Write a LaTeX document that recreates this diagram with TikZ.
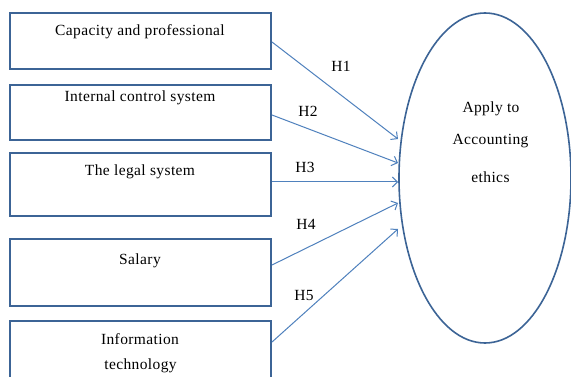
\documentclass[tikz,border=0pt]{standalone}
\usepackage{fontspec}
\setmainfont[LetterSpace=2.5]{Liberation Serif}
\usetikzlibrary{shapes.geometric,arrows.meta}
\definecolor{boxblue}{HTML}{3C6496}
\definecolor{arrblue}{HTML}{4F81BD}
\tikzset{
  box/.style={draw=boxblue, line width=2pt, rectangle, minimum width=261pt, inner sep=0pt},
  txt/.style={anchor=base, inner sep=0pt, font=\fontsize{15.5}{18}\selectfont},
  arr/.style={draw=arrblue, line width=1pt, -{Straight Barb[length=5pt,width=10pt]}},
}
\begin{document}
\begin{tikzpicture}[x=1pt,y=-1pt]
\useasboundingbox (0,0) rectangle (571,377);
\clip (0,0) rectangle (571,377);
\fill[white] (0,0) rectangle (571,377);
% boxes
\node[box, minimum height=56pt] (b1) at (140.5,41) {};
\node[box, minimum height=55pt] (b2) at (140.5,112.5) {};
\node[box, minimum height=63pt] (b3) at (140.5,184.5) {};
\node[box, minimum height=67pt] (b4) at (140.5,272.5) {};
\node[box, minimum height=69pt] (b5) at (140.5,355.5) {};
% box texts
\node[txt] (t1) at (140,36) {Capacity and professional};
\node[txt] (t2) at (140,102) {Internal control system};
\node[txt] (t3) at (140,176) {The legal system};
\node[txt] (t4) at (140,265) {Salary};
\node[txt] (t5a) at (140,344) {Information};
\node[txt] (t5b) at (140.5,369) {technology};
% ellipse
\node[ellipse, draw=boxblue, line width=1.6pt, minimum width=172pt, minimum height=330pt, inner sep=0pt] (ell) at (485,178) {};
\node[txt] (e1) at (491,113) {Apply to};
\node[txt] (e2) at (490.5,145) {Accounting};
\node[txt] (e3) at (490.5,183) {ethics};
% arrow targets
\coordinate (a1) at (398,139);
\coordinate (a2) at (398,163);
\coordinate (a3) at (398,182);
\coordinate (a4) at (398,203);
\coordinate (a5) at (398,229);
\draw[arr] ([yshift=-1pt]b1.east) -- (a1);
\draw[arr] ([yshift=-2.5pt]b2.east) -- (a2);
\draw[arr] ([yshift=2.5pt]b3.east) -- (a3);
\draw[arr] ([yshift=7.5pt]b4.east) -- (a4);
\draw[arr] ([yshift=13.5pt]b5.east) -- (a5);
% labels
\node[txt] (h1) at (341,72) {H1};
\node[txt] (h2) at (308,117) {H2};
\node[txt] (h3) at (305,173) {H3};
\node[txt] (h4) at (306,230) {H4};
\node[txt] (h5) at (304,300) {H5};
\end{tikzpicture}
\end{document}
